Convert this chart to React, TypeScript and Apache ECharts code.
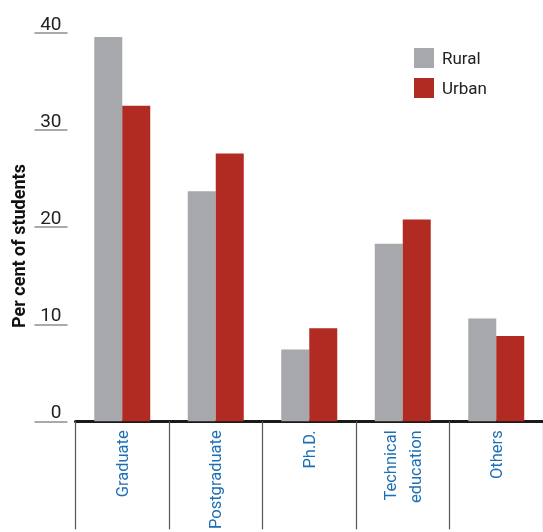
import React, { useEffect, useRef } from "react";
import * as echarts from "echarts";

const categories = ["Graduate", "Postgraduate", "Ph.D.", "Technical\neducation", "Others"];
const rural = [39.6, 23.7, 7.4, 18.3, 10.6];
const urban = [32.5, 27.6, 9.6, 20.8, 8.8];
const yTicks = { min: 0, max: 40, interval: 10 };
const yTitle = "Per cent of students";

export default function App() {
  const ref = useRef<HTMLDivElement>(null);
  useEffect(() => {
    if (!ref.current) return;
    const chart = echarts.init(ref.current, null, { renderer: "svg" });
    const font = "Roboto, 'Noto Sans', sans-serif";
    chart.setOption({
      animation: false,
      textStyle: { fontFamily: font },
      grid: { left: 75.5, right: 0, top: 33, bottom: 109, containLabel: false },
      legend: {
        orient: "vertical",
        left: 414,
        top: 48,
        itemWidth: 20,
        itemHeight: 20,
        itemGap: 10,
        padding: 0,
        icon: "rect",
        textStyle: { fontSize: 17, color: "#222", fontFamily: font, padding: [0, 0, 0, 3] },
        data: ["Rural", "Urban"],
      },
      graphic: [
        {
          type: "text",
          x: 18,
          y: 246,
          rotation: Math.PI / 2,
          style: {
            text: yTitle,
            fontSize: 18,
            fontWeight: "bold",
            fontFamily: font,
            fill: "#111",
            align: "center",
            verticalAlign: "middle",
          },
        },
      ],
      xAxis: {
        type: "category",
        data: categories,
        axisLine: { show: true, lineStyle: { color: "#1a1a1a", width: 3 } },
        axisTick: { show: true, length: 108, lineStyle: { color: "#555", width: 1.2 } },
        axisLabel: {
          interval: 0,
          rotate: 90,
          margin: 9,
          fontSize: 16.5,
          lineHeight: 25,
          color: "#1d6fb3",
          fontFamily: font,
        },
        splitLine: { show: false },
      },
      yAxis: {
        type: "value",
        min: yTicks.min,
        max: yTicks.max,
        interval: yTicks.interval,
        offset: 8,
        axisLine: { show: false },
        axisTick: { show: true, length: 33, lineStyle: { color: "#aaa", width: 2 } },
        axisLabel: {
          margin: 6,
          fontSize: 19,
          lineHeight: 20,
          verticalAlign: "bottom",
          color: "#222",
          fontFamily: font,
        },
        splitLine: { show: false },
      },
      series: [
        {
          name: "Rural",
          type: "bar",
          data: rural,
          barWidth: 28,
          barGap: "0%",
          itemStyle: { color: "#a7a8ab" },
        },
        {
          name: "Urban",
          type: "bar",
          data: urban,
          barWidth: 28,
          barGap: "0%",
          itemStyle: { color: "#b12b22" },
        },
      ],
    });
    return () => chart.dispose();
  }, []);
  return (
    <div
      ref={ref}
      style={{ position: "fixed", left: 0, top: 0, width: 543, height: 532, overflow: "hidden" }}
    />
  );
}
